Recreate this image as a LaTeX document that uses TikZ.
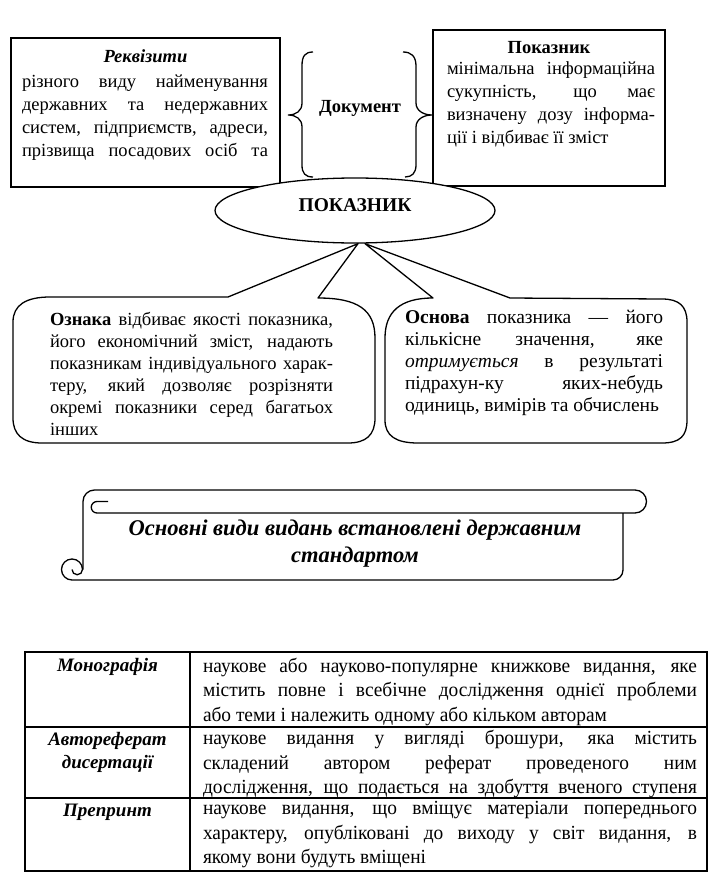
\documentclass[tikz,border=0pt]{standalone}
\usepackage{fontspec}
\setmainfont{Liberation Serif}
\newfontfamily\narrowserif{Liberation Serif}[FakeStretch=0.97]
\usetikzlibrary{positioning,calc,shapes.geometric}

\begin{document}
\begin{tikzpicture}[x=1pt,y=-1pt,
    frame/.style={draw,line width=1.3pt},
    hdr/.style={inner sep=0pt,font=\fontsize{18.5}{23}\selectfont\bfseries},
    bodytxt/.style={inner sep=0pt,align=justify,font=\fontsize{18.5}{23}\selectfont},
    brc/.style={draw,line width=1.3pt},
    bubble/.style={draw,line width=1.3pt,line join=round},
    bubtxt/.style={inner sep=0pt,align=justify,font=\fontsize{18.5}{22}\selectfont},
    scrl/.style={draw,line width=1.3pt,line join=round},
    scrtxt/.style={inner sep=0pt,align=center,font=\fontsize{22.5}{27}\selectfont\bfseries\itshape},
    tbl/.style={draw,line width=1.2pt},
    kind/.style={inner sep=0pt,align=center,font=\fontsize{19}{23}\selectfont\bfseries\itshape},
    celltxt/.style={inner sep=0pt,align=justify,text width=494pt,font=\narrowserif\fontsize{20}{24.5}\selectfont},
  ]
  \useasboundingbox (0,0) rectangle (721,883);

  \node[frame,minimum width=269pt,minimum height=149pt] (rekv) at (145.5,112.5) {};
  \node[frame,minimum width=232pt,minimum height=156pt] (pokbox) at (549,108) {};
  \node[hdr,font=\fontsize{18.5}{23}\selectfont\bfseries\itshape,below=12pt of rekv.north] (rekvT) {Реквізити};
  \node[hdr,below=12pt of pokbox.north] (pokboxT) {Показник};
  \node[bodytxt,text width=246pt] (rekvB) at (145,117.5) {різного виду найменування\linebreak
    державних та недержавних\linebreak
    систем, підприємств, адреси,\linebreak
    прізвища посадових осіб та{\parfillskip=0pt\par}};
  \node[bodytxt,text width=208pt] (pokboxB) at (551,104.5) {мінімальна інформаційна\linebreak
    сукупність, що має\linebreak
    визначену дозу інформа-\linebreak
    ції і відбиває її зміст};

  \node[hdr] (doc) at (360,108) {Документ};
  \draw[brc] (313,52) .. controls (305,52) and (302,56) .. (302,66) -- (302,103)
    .. controls (302,111) and (296,115) .. (288,115) .. controls (296,115) and (302,119) .. (302,127)
    -- (302,165) .. controls (302,173) and (305,177) .. (313,177);
  \draw[brc] (403,52) .. controls (411,52) and (416,56) .. (416,66) -- (416,103)
    .. controls (416,111) and (424,115) .. (432,115) .. controls (424,115) and (416,119) .. (416,127)
    -- (416,165) .. controls (416,173) and (412,177) .. (405,177);

  \node[ellipse,draw,fill=white,line width=1.3pt,minimum width=280pt,minimum height=65pt,inner sep=0pt] (pokaz) at (355,210.5) {};
  \node[hdr,font=\fontsize{19.5}{22}\selectfont\bfseries] (pokazT) at (355,205) {ПОКАЗНИК};

  \draw[bubble] (50,297) -- (228,297) -- ($(pokaz.south)+(3,0)$) -- (318,298)
    .. controls (358,298) and (375,310) .. (375,338) -- (375,418)
    .. controls (375,435) and (366,443) .. (348,443) -- (42,443)
    .. controls (22,443) and (13,434) .. (13,418) -- (13,322)
    .. controls (13,305) and (26,297) .. cycle;
  \draw[bubble] (510,298) -- ($(pokaz.south)+(10,0)$) -- (433,298)
    .. controls (400,298) and (385,312) .. (385,338) -- (385,420)
    .. controls (385,436) and (396,443) .. (418,443) -- (662,443)
    .. controls (680,443) and (687,436) .. (687,420) -- (687,322)
    .. controls (687,306) and (679,299) .. (662,299) -- cycle;
  \node[bubtxt,text width=283pt] (oznaka) at (191.5,374) {\textbf{Ознака} відбиває якості показника,\linebreak
    його економічний зміст, надають\linebreak
    показникам індивідуального харак-\linebreak
    теру, який дозволяє розрізняти\linebreak
    окремі показники серед багатьох\linebreak
    інших};
  \node[bubtxt,text width=258pt,font=\fontsize{19.5}{22}\selectfont] (osnova) at (534,363) {\textbf{Основа} показника — його\linebreak
    кількісне значення, яке\linebreak
    \textit{отримується} в результаті\linebreak
    підрахун-ку яких-небудь\linebreak
    одиниць, вимірів та обчислень};

  \draw[scrl] (83,569.5) -- (83,501.5) arc[start angle=180,end angle=90,radius=11.5pt] -- (635,490)
    arc[start angle=90,end angle=-90,radius=11.5pt] -- (97,513)
    arc[start angle=270,end angle=90,radius=5.75pt] -- (108,501.5);
  \draw[scrl] (623,513) -- (623,570) arc[start angle=0,end angle=-90,radius=10pt] -- (72,580)
    arc[start angle=-90,end angle=-360,radius=10.5pt] arc[start angle=0,end angle=-180,radius=5.25pt];
  \node[scrtxt] (vydy) at (355,543.5) {Основні види видань встановлені державним\\стандартом};

  \draw[tbl] (25,652) rectangle (707,871);
  \draw[tbl] (190,652) -- (190,871);
  \draw[tbl] (25,727) -- (707,727);
  \draw[tbl] (25,798) -- (707,798);
  \node[kind] (mono) at (107.5,667) {Монографія};
  \node[kind] (avto) at (107.5,752.5) {Автореферат\\дисертації};
  \node[kind] (prep) at (107.5,812) {Препринт};
  \node[celltxt] (monoT) at (450,691.5) {наукове або науково-популярне книжкове видання, яке\linebreak
    містить повне і всебічне дослідження однієї проблеми\linebreak
    або теми і належить одному або кільком авторам};
  \node[celltxt] (avtoT) at (450,764) {наукове видання у вигляді брошури, яка містить\linebreak
    складений автором реферат проведеного ним\linebreak
    дослідження, що подається на здобуття вченого ступеня{\parfillskip=0pt\par}};
  \node[celltxt] (prepT) at (450,835) {наукове видання, що вміщує матеріали попереднього\linebreak
    характеру, опубліковані до виходу у світ видання, в\linebreak
    якому вони будуть вміщені};
\end{tikzpicture}
\end{document}
